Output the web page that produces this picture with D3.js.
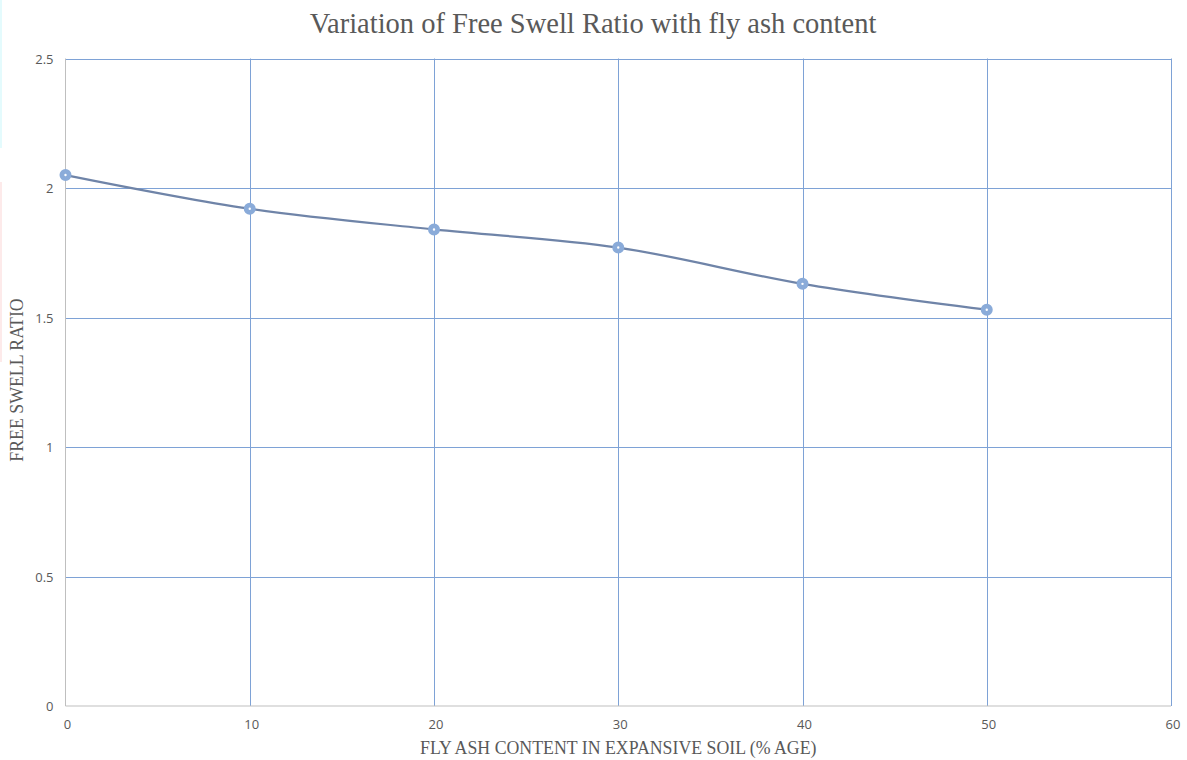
<!DOCTYPE html>
<html>
<head>
<meta charset="utf-8">
<script src="https://cdn.jsdelivr.net/npm/d3@7"></script>
<style>
  body { margin: 0; background: #fff; }
  svg { display: block; }
</style>
</head>
<body>
<div id="chart"></div>
<script>
'use strict'

// data
const flyAsh = [0, 10, 20, 30, 40, 50]
const swellRatio = [2.05, 1.92, 1.84, 1.77, 1.63, 1.53]
const xTicks = [0, 10, 20, 30, 40, 50, 60]
const yTicks = [0, 0.5, 1, 1.5, 2, 2.5]

const W = 1187, H = 760
const margin = { top: 58.5, right: 16, bottom: 54, left: 65.5 }

const svg = d3.select('#chart').append('svg')
  .attr('width', W).attr('height', H)

const x = d3.scaleLinear().domain([0, 60]).range([margin.left, W - margin.right])
const y = d3.scaleLinear().domain([0, 2.5]).range([H - margin.bottom, margin.top])

// faint strips on left edge (scan artifacts)
svg.append('rect').attr('x', 0).attr('y', 0).attr('width', 2).attr('height', 148).attr('fill', '#e4fbfd')
svg.append('rect').attr('x', 0).attr('y', 182).attr('width', 2).attr('height', 180).attr('fill', '#fdeaea')

const grid = '#7ea2d6'

// horizontal gridlines
svg.append('g').selectAll('line')
  .data(yTicks.filter(d => d > 0))
  .join('line')
  .attr('x1', x(0)).attr('x2', x(60))
  .attr('y1', d => Math.round(y(d)) + 0.5).attr('y2', d => Math.round(y(d)) + 0.5)
  .attr('stroke', grid).attr('stroke-width', 1)

// vertical gridlines
svg.append('g').selectAll('line')
  .data(xTicks.filter(d => d > 0))
  .join('line')
  .attr('x1', d => Math.round(x(d)) + 0.5).attr('x2', d => Math.round(x(d)) + 0.5)
  .attr('y1', y(0)).attr('y2', y(2.5))
  .attr('stroke', grid).attr('stroke-width', 1)

// axes lines (gray)
svg.append('line')
  .attr('x1', x(0)).attr('x2', x(0)).attr('y1', y(0)).attr('y2', y(2.5))
  .attr('stroke', '#bfbfbf').attr('stroke-width', 1)
svg.append('line')
  .attr('x1', x(0)).attr('x2', x(60)).attr('y1', y(0)).attr('y2', y(0))
  .attr('stroke', '#bfbfbf').attr('stroke-width', 1)

// tick labels
const tickFont = "'Open Sans', 'Liberation Sans', sans-serif"
svg.append('g').selectAll('text')
  .data(xTicks)
  .join('text')
  .attr('x', d => x(d) + 2).attr('y', y(0) + 23)
  .attr('text-anchor', 'middle')
  .attr('font-family', tickFont).attr('font-size', 13)
  .attr('fill', '#595959')
  .text(d => d)

svg.append('g').selectAll('text')
  .data(yTicks)
  .join('text')
  .attr('x', x(0) - 12).attr('y', d => y(d) + 5)
  .attr('text-anchor', 'end')
  .attr('font-family', tickFont).attr('font-size', 13)
  .attr('fill', '#595959')
  .text(d => d)

// the series
const pts = flyAsh.map((d, i) => [d, swellRatio[i]])
const line = d3.line()
  .x(d => x(d[0])).y(d => y(d[1]))
  .curve(d3.curveMonotoneX)

svg.append('path')
  .datum(pts)
  .attr('d', line)
  .attr('fill', 'none')
  .attr('stroke', '#6f84a8')
  .attr('stroke-width', 2.25)

svg.append('g').selectAll('circle')
  .data(pts)
  .join('circle')
  .attr('cx', d => x(d[0])).attr('cy', d => y(d[1]))
  .attr('r', 3.6)
  .attr('fill', '#fff')
  .attr('stroke', '#8aabd9')
  .attr('stroke-width', 4.8)

// titles
const serif = "'Liberation Serif', 'DejaVu Serif', serif"
svg.append('text')
  .attr('x', 593).attr('y', 33)
  .attr('text-anchor', 'middle')
  .attr('font-family', serif).attr('font-size', 28.5)
  .attr('fill', '#595959')
  .text('Variation of Free Swell Ratio with fly ash content')

svg.append('text')
  .attr('x', (x(0) + x(60)) / 2).attr('y', 754)
  .attr('text-anchor', 'middle')
  .attr('font-family', serif).attr('font-size', 17.8)
  .attr('fill', '#595959')
  .text('FLY ASH CONTENT IN EXPANSIVE SOIL (% AGE)')

svg.append('text')
  .attr('transform', 'translate(23,380) rotate(-90)')
  .attr('text-anchor', 'middle')
  .attr('font-family', serif).attr('font-size', 17.8)
  .attr('fill', '#595959')
  .text('FREE SWELL RATIO')
</script>
</body>
</html>
